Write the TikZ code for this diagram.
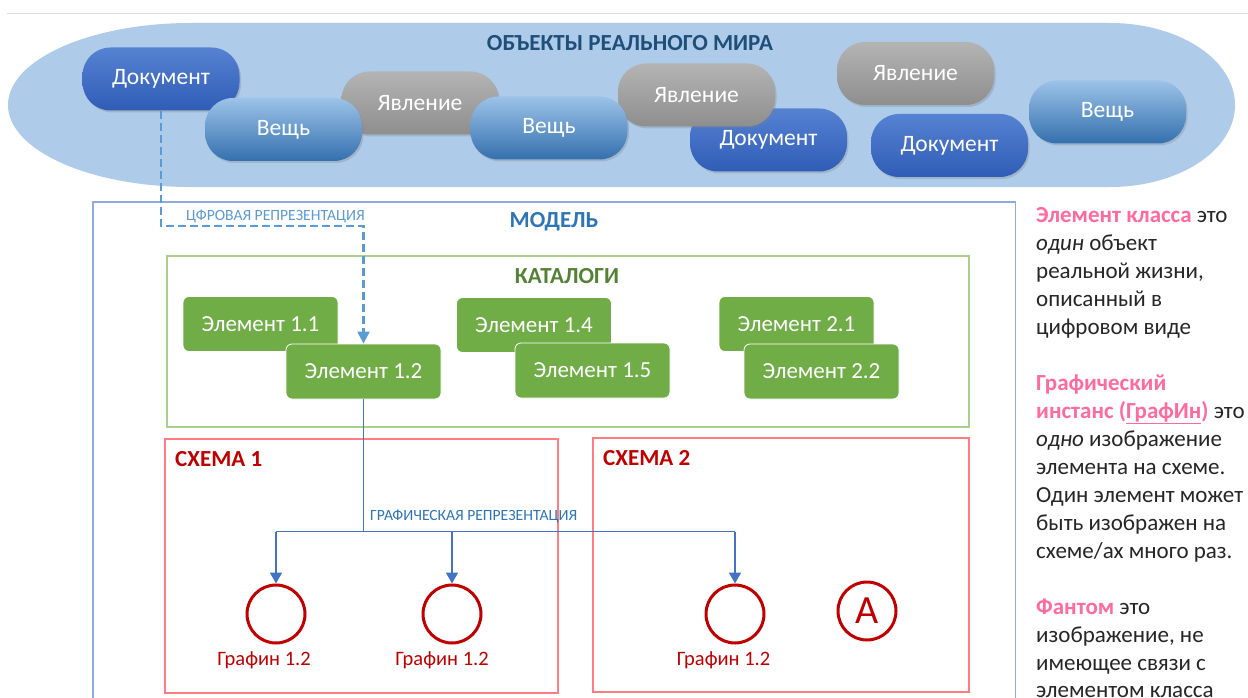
\documentclass[tikz,border=0pt]{standalone}
\usepackage{fontspec}
\setmainfont{Carlito}
\usetikzlibrary{arrows.meta,shadows}
\definecolor{ellFill}{HTML}{AECBEA}
\definecolor{docTop}{HTML}{5682D2}
\definecolor{docBot}{HTML}{2F5DB6}
\definecolor{thTop}{HTML}{9CC3E8}
\definecolor{thBot}{HTML}{3470AE}
\definecolor{yvTop}{HTML}{B4B4B4}
\definecolor{yvBot}{HTML}{8E8E8E}
\definecolor{titleBlue}{HTML}{1F4E79}
\definecolor{modelBlue}{HTML}{2E75B6}
\definecolor{modelLine}{HTML}{8FAADC}
\definecolor{catLine}{HTML}{A9D18E}
\definecolor{catText}{HTML}{548235}
\definecolor{elemGreen}{HTML}{70AD47}
\definecolor{schLine}{HTML}{FF7C80}
\definecolor{schRed}{HTML}{C00000}
\definecolor{dashBlue}{HTML}{5B9BD5}
\definecolor{connBlue}{HTML}{4472C4}
\definecolor{hotPink}{HTML}{FF6B9E}
\definecolor{bodyText}{HTML}{262626}
\begin{document}
\begin{tikzpicture}[x=1pt,y=-1pt,
  pill/.style={rectangle, rounded corners=28pt, minimum width=157pt, minimum height=63pt,
    text=white, font=\fontsize{23.5}{27}\selectfont, inner sep=0pt,
    drop shadow={opacity=0.3, shadow xshift=1.5pt, shadow yshift=-2pt}},
  docpill/.style={pill, top color=docTop, bottom color=docBot},
  thpill/.style={pill, top color=thTop, bottom color=thBot},
  yvpill/.style={pill, top color=yvTop, bottom color=yvBot},
  elem/.style={rectangle, rounded corners=6pt, fill=elemGreen, draw=white, line width=0.8pt,
    text=white, font=\fontsize{23}{27}\selectfont, minimum width=155pt, minimum height=55pt, inner sep=0pt},
  grafin/.style={circle, draw=schRed, line width=3pt, fill=white, minimum size=58pt, inner sep=0pt},
  glabel/.style={text=schRed, font=\fontsize{20.5}{24}\selectfont, inner sep=0pt},
  boxtitle/.style={font=\bfseries\fontsize{23}{27}\selectfont, inner sep=0pt},
  small/.style={font=\fontsize{15.6}{18}\selectfont, inner sep=0pt},
  rline/.style={anchor=base west, inner sep=0pt, text=bodyText, font=\fontsize{23}{28}\selectfont},
  cline/.style={draw=connBlue, line width=1.6pt},
  dline/.style={draw=dashBlue, line width=2.2pt, dash pattern=on 8pt off 4pt}
]
\useasboundingbox (0,0) rectangle (1248,698);
\fill[white] (0,0) rectangle (1248,698);
% top rule
\draw[draw=black!15, line width=1pt] (7,14) -- (1248,14);
% real-world objects area
\fill[ellFill] (191,23) -- (1110,23)
  arc[start angle=-90, end angle=90, x radius=125, y radius=82]
  -- (191,187)
  arc[start angle=90, end angle=270, x radius=183, y radius=82] -- cycle;
\node[boxtitle, text=titleBlue] (ttl) at (630,43) {ОБЪЕКТЫ РЕАЛЬНОГО МИРА};
% pills
\node[docpill] (doc1) at (161,79) {Документ};
\node[yvpill] (yv1) at (420,103) {Явление};
\node[thpill] (th1) at (283.5,129.5) {Вещь};
\node[docpill] (doc2) at (768.5,140) {Документ};
\node[yvpill] (yv2) at (696.5,95) {Явление};
\node[thpill] (th2) at (549,128) {Вещь};
\node[yvpill] (yv3) at (915.5,73.5) {Явление};
\node[docpill] (doc3) at (949.5,145.5) {Документ};
\node[thpill] (th3) at (1107.5,112) {Вещь};
% model frame (continues below the page)
\draw[draw=modelLine, line width=1.3pt] (93,705) -- (93,202) -- (1015.5,202) -- (1015.5,705);
\node[boxtitle, text=modelBlue] (mdl) at (554,222) {МОДЕЛЬ};
% catalogs
\draw[draw=catLine, line width=1.1pt] (167,256) rectangle (969,427);
\node[boxtitle, text=catText] (cat) at (567,276) {КАТАЛОГИ};
\node[elem] (e11) at (260.5,324) {Элемент 1.1};
\node[elem] (e12) at (363.5,371.5) {Элемент 1.2};
\node[elem] (e14) at (534,325) {Элемент 1.4};
\node[elem] (e15) at (592.5,370.5) {Элемент 1.5};
\node[elem] (e21) at (796.5,324) {Элемент 2.1};
\node[elem] (e22) at (821.5,371.5) {Элемент 2.2};
% schemes
\draw[draw=schLine, line width=1.1pt] (165,439) rectangle (558,693);
\draw[draw=schLine, line width=1.1pt] (593,438) rectangle (969,692);
\node[boxtitle, text=schRed, anchor=west] (s1) at (175,459) {СХЕМА 1};
\node[boxtitle, text=schRed, anchor=west] (s2) at (603,458) {СХЕМА 2};
% graphical instances
\node[grafin] (g1) at (276,614) {};
\node[grafin] (g2) at (452,614) {};
\node[grafin] (g3) at (735,614) {};
\node[grafin, text=schRed, font=\fontsize{40}{42}\selectfont] (ph) at (867,611) {A};
\node[glabel] (l1) at (264,660) {Графин 1.2};
\node[glabel] (l2) at (442,660) {Графин 1.2};
\node[glabel] (l3) at (723.5,660) {Графин 1.2};
% digital representation (dashed)
\coordinate (dy) at (0,226);
\draw[dline, -{Triangle[length=12pt,width=12pt]}] (doc1.south) |- (e12.north |- dy) -- (e12.north);
\node[small, text=dashBlue] (dlab) at (275.5,216) {ЦФРОВАЯ РЕПРЕЗЕНТАЦИЯ};
% graphical representation
\coordinate (jy) at (0,531.5);
\draw[cline] (e12.south) -- (e12.south |- jy);
\draw[cline] (g1.north |- jy) -- (g3.north |- jy);
\draw[cline, -{Triangle[length=11pt,width=12pt]}] (g1.north |- jy) -- (g1.north);
\draw[cline, -{Triangle[length=11pt,width=12pt]}] (g2.north |- jy) -- (g2.north);
\draw[cline, -{Triangle[length=11pt,width=12pt]}] (g3.north |- jy) -- (g3.north);
\node[small, text=modelBlue, anchor=west] (glab) at (370,516) {ГРАФИЧЕСКАЯ РЕПРЕЗЕНТАЦИЯ};
% definitions on the right
\node[rline] (r1) at (1036,222.5) {{\color{hotPink}\bfseries Элемент класса} это};
\node[rline] (r2) at (1036,250.5) {\textit{один} объект};
\node[rline] (r3) at (1036,278.5) {реальной жизни,};
\node[rline] (r4) at (1036,306.5) {описанный в};
\node[rline] (r5) at (1036,334.5) {цифровом виде};
\node[rline] (r6) at (1036,390.5) {{\color{hotPink}\bfseries Графический}};
\node[rline] (r7) at (1036,418.5) {{\color{hotPink}\bfseries инстанс (\underline{ГрафИн})} это};
\node[rline] (r8) at (1036,446.5) {\textit{одно} изображение};
\node[rline] (r9) at (1036,474.5) {элемента на схеме.};
\node[rline] (r10) at (1036,502.5) {Один элемент может};
\node[rline] (r11) at (1036,530.5) {быть изображен на};
\node[rline] (r12) at (1036,558.5) {схеме/ах много раз.};
\node[rline] (r13) at (1036,614.5) {{\color{hotPink}\bfseries Фантом} это};
\node[rline] (r14) at (1036,642.5) {изображение, не};
\node[rline] (r15) at (1036,670.5) {имеющее связи с};
\node[rline] (r16) at (1036,697.5) {элементом класса};
\end{tikzpicture}
\end{document}
